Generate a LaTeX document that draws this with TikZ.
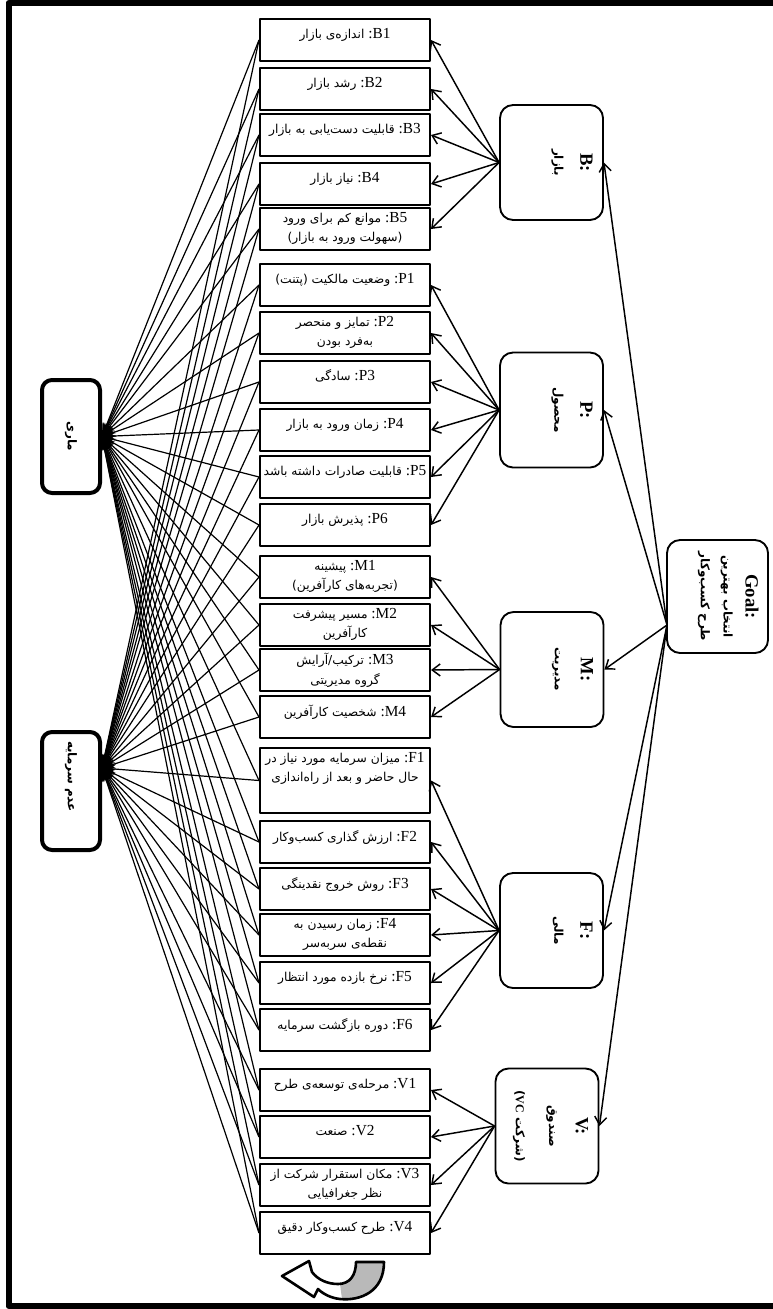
\documentclass[tikz,border=0pt]{standalone}
\usepackage{fontspec}
\usepackage{graphicx}
\setmainfont{Liberation Serif}
\newfontfamily\fa[Script=Arabic]{DejaVu Sans}
\TeXXeTstate=1
\usetikzlibrary{arrows.meta}
\newdimen\pxl \pxl=0.75pt
\newcommand\lab[1]{\hbox{\rmfamily\fontsize{11.5}{14}\selectfont:#1}}
\newcommand\pO{\hbox{(}}
\newcommand\pC{\hbox{)}}
\newcommand\st[2][36]{\parbox[c][#1\pxl][t]{164\pxl}{\centering\fa\fontsize{9.2}{15}\selectfont\vspace*{4.5pt}#2}}
\newcommand\stt[2][36]{\parbox[c][#1\pxl][t]{164\pxl}{\centering\fa\fontsize{9.2}{14.5}\selectfont\vspace*{1pt}#2}}
\newcommand\rot[1]{\rotatebox{-90}{\parbox[c][100\pxl][t]{112\pxl}{\centering\vspace*{9\pxl}#1}}}
\newcommand\hd[1]{{\bfseries\fontsize{14}{16}\selectfont #1:\par}}
\newcommand\fline[2]{{\fa\bfseries\fontsize{9}{#1}\selectfont #2\par}}
\begin{document}
\begin{tikzpicture}[x=\pxl, y=-\pxl, line join=round, >={Straight Barb[length=6pt,width=9pt]},
	sub/.style={draw, line width=1.5pt, anchor=north, inner sep=3\pxl},
	crit/.style={draw, line width=1.4pt, rounded corners=13\pxl, minimum width=103\pxl, minimum height=115\pxl, inner sep=0pt},
	alt/.style={draw, line width=3pt, rounded corners=10\pxl, minimum width=58\pxl, minimum height=113\pxl, inner sep=0pt},
	arr/.style={->, line width=1.1pt},
	toalt/.style={-{Stealth[length=10pt,width=7pt]}, line width=.9pt}]
	\useasboundingbox (0,0) rectangle (773,1309);
	\draw[line width=6\pxl] (8.5,3) rectangle (800,1306);
	% sub-criteria
	\node[sub] (B1) at (345,18) {\st{\beginR\lab{B1} اندازه‌ی بازار\endR}};
	\node[sub] (B2) at (345,67) {\st{\beginR\lab{B2} رشد بازار\endR}};
	\node[sub] (B3) at (345,113) {\st{\beginR\lab{B3} قابلیت دست‌یابی به بازار\endR}};
	\node[sub] (B4) at (345,162) {\st{\beginR\lab{B4} نیاز بازار\endR}};
	\node[sub] (B5) at (345,207) {\stt{\beginR\lab{B5} موانع کم برای ورود\endR\\\beginR\pO سهولت ورود به بازار\pC\endR}};
	\node[sub] (P1) at (345,263) {\st{\beginR\lab{P1} وضعیت مالکیت \pO پتنت\pC\endR}};
	\node[sub] (P2) at (345,311) {\stt{\beginR\lab{P2} تمایز و منحصر\endR\\\beginR به‌فرد بودن\endR}};
	\node[sub] (P3) at (345,360) {\st{\beginR\lab{P3} سادگی\endR}};
	\node[sub] (P4) at (345,408) {\st{\beginR\lab{P4} زمان ورود به بازار\endR}};
	\node[sub] (P5) at (345,455) {\st{\beginR\lab{P5} قابلیت صادرات داشته باشد\endR}};
	\node[sub] (P6) at (345,503) {\st{\beginR\lab{P6} پذیرش بازار\endR}};
	\node[sub] (M1) at (345,555) {\stt{\beginR\lab{M1} پیشینه\endR\\\beginR\pO تجربه‌های کارآفرین\pC\endR}};
	\node[sub] (M2) at (345,603) {\stt{\beginR\lab{M2} مسیر پیشرفت\endR\\\beginR کارآفرین\endR}};
	\node[sub] (M3) at (345,648) {\stt{\beginR\lab{M3} ترکیب/آرایش\endR\\\beginR گروه مدیریتی\endR}};
	\node[sub] (M4) at (345,695) {\st{\beginR\lab{M4} شخصیت کارآفرین\endR}};
	\node[sub] (F1) at (345,747) {\stt[59]{\beginR\lab{F1} میزان سرمایه مورد نیاز در\endR\\\beginR حال حاضر و بعد از راه‌اندازی\endR}};
	\node[sub] (F2) at (345,820) {\st{\beginR\lab{F2} ارزش گذاری کسب‌وکار\endR}};
	\node[sub] (F3) at (345,867) {\st{\beginR\lab{F3} روش خروج نقدینگی\endR}};
	\node[sub] (F4) at (345,913) {\stt{\beginR\lab{F4} زمان رسیدن به\endR\\\beginR نقطه‌ی سربه‌سر\endR}};
	\node[sub] (F5) at (345,961) {\st{\beginR\lab{F5} نرخ بازده مورد انتظار\endR}};
	\node[sub] (F6) at (345,1008) {\st{\beginR\lab{F6} دوره بازگشت سرمایه\endR}};
	\node[sub] (V1) at (345,1068) {\st{\beginR\lab{V1} مرحله‌ی توسعه‌ی طرح\endR}};
	\node[sub] (V2) at (345,1115) {\st{\beginR\lab{V2} صنعت\endR}};
	\node[sub] (V3) at (345,1163) {\stt{\beginR\lab{V3} مکان استقرار شرکت از\endR\\\beginR نظر جغرافیایی\endR}};
	\node[sub] (V4) at (345,1211) {\st{\beginR\lab{V4} طرح کسب‌وکار دقیق\endR}};
	% criteria and goal
	\node[crit] (B) at (551.5,162.5) {\rot{\hd{B}\fline{19.5}{\beginR بازار\endR}}};
	\node[crit] (P) at (551.5,410) {\rot{\hd{P}\fline{19.5}{\beginR محصول\endR}}};
	\node[crit] (M) at (552,669.5) {\rot{\hd{M}\fline{19.5}{\beginR مدیریت\endR}}};
	\node[crit] (F) at (551.5,930.5) {\rot{\hd{F}\fline{19.5}{\beginR مالی\endR}}};
	\node[crit] (V) at (547,1126) {\rot{\hd{V}\fline{20}{\beginR صندوق\endR}\fline{25}{\beginR\pO شرکت \hbox{\rmfamily VC}\pC\endR}}};
	\node[crit, minimum width=101\pxl, minimum height=113\pxl] (goal) at (717.5,596.5) {\rot{\hd{Goal}\fline{16.5}{\beginR انتخاب بهترین\endR}\fline{17}{\beginR طرح کسب‌وکار\endR}}};
	\coordinate (g0) at (667,625);
	% alternatives
	\node[alt] (a1) at (71,436.5) {\rotatebox{-90}{\fa\bfseries\fontsize{9}{11}\selectfont\beginR ماری\endR}};
	\node[alt, minimum height=118\pxl] (a2) at (71,791) {\rotatebox{-90}{\makebox[118\pxl][l]{\hspace{9\pxl}\fa\bfseries\fontsize{9}{11}\selectfont\beginR عدم سرمایه\endR}}};
	\coordinate (a2c) at (a2.east |- 0,768);
	% connectors
	\foreach \c/\n in {B/5,P/6,M/4,F/6,V/4}
		\foreach \i in {1,...,\n} \draw[arr] (\c.west) -- (\c\i.east);
	\foreach \c in {B,P,M,F,V} \draw[arr] (g0) -- (\c.east);
	\foreach \s in {B1,B2,B3,B4,B5,P1,P2,P3,P4,P5,P6,M1,M2,M3,M4,F1,F2,F3,F4,F5,F6,V1,V2,V3,V4}
		{\draw[toalt] (\s.west) -- (a1.east); \draw[toalt] (\s.west) -- (a2c);}
	% u-turn arrow
	\def\uturn{(384,1262) .. controls (384,1292) and (360,1301) .. (340,1299) .. controls (330,1298) and (322,1293) .. (318,1289) -- (314,1297) -- (282,1276) -- (309,1261) -- (312,1272) .. controls (318,1280) and (328,1284) .. (338,1284) .. controls (350,1284) and (356,1275) .. (356,1262) -- cycle}
	\fill[white] \uturn;
	\fill[gray!55] (356,1262) -- (384,1262) .. controls (384,1292) and (360,1301) .. (342,1299) -- (340,1284) .. controls (350,1284) and (356,1275) .. (356,1262) -- cycle;
	\draw[line width=2.6\pxl] \uturn;
\end{tikzpicture}
\end{document}
